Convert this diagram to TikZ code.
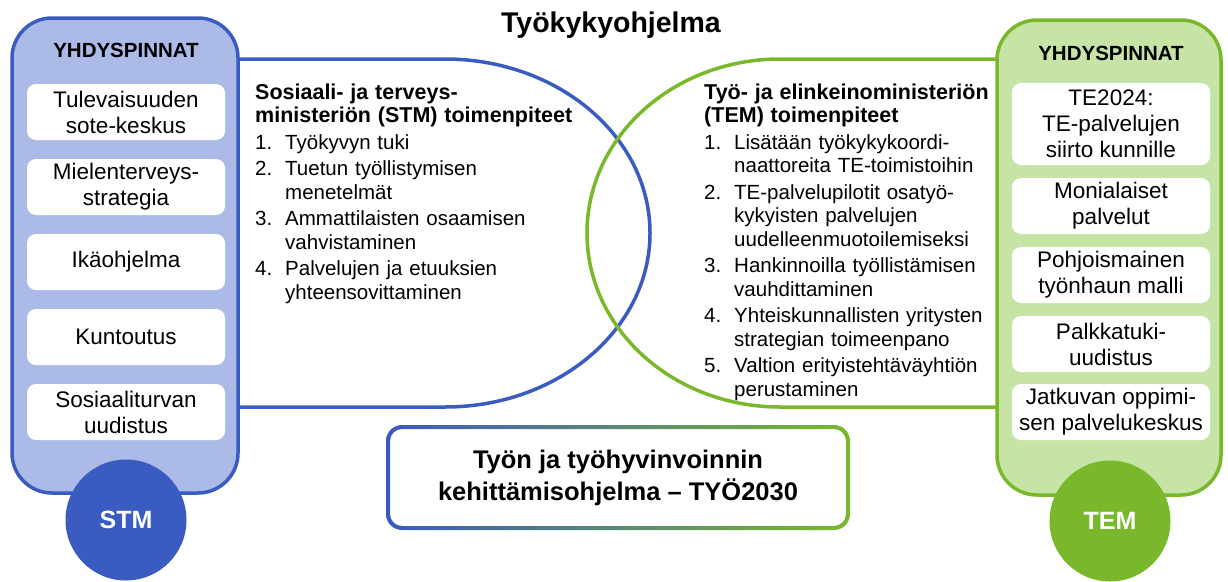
\documentclass[tikz,border=0pt]{standalone}
\usepackage{fontspec}
\setmainfont{Liberation Sans}
\usepackage{xcolor}
\usetikzlibrary{shapes}

\definecolor{stmblue}{HTML}{3A5BBF}
\definecolor{stmlight}{HTML}{ABBAE6}
\definecolor{temgreen}{HTML}{78B82A}
\definecolor{temlight}{HTML}{C6E4A6}

% one numbered measure, \jatko breaks to an indented line
\newcommand{\kohta}[2]{\par\noindent\makebox[30pt][l]{#1}#2}
\newcommand{\jatko}{\newline\hspace*{30pt}}

\begin{document}
\begin{tikzpicture}[x=1pt, y=-1pt,
  panel/.style={line width=3.5pt, rounded corners=40pt},
  venn/.style={line width=3.5pt},
  sidebox/.style={fill=white, rounded corners=9pt, minimum width=198pt, minimum height=56pt,
    inner sep=0pt, align=center, font=\fontsize{22.5}{26}\selectfont},
  header/.style={font=\bfseries\fontsize{20.5}{24}\selectfont},
  ministry/.style={circle, minimum size=121pt, inner sep=0pt, text=white,
    font=\bfseries\fontsize{25}{30}\selectfont},
  toimet/.style={anchor=north west, inner sep=0pt, text width=320pt, align=left,
    font=\fontsize{20.5}{23.5}\selectfont\setlength{\parskip}{3pt}},
]
\useasboundingbox (0,0) rectangle (1228,581);

\node[font=\bfseries\fontsize{28.5}{32}\selectfont] (otsikko) at (611,25) {Työkykyohjelma};

% the two half rounds
\draw[venn, stmblue] (238,59) -- (445,59) arc[start angle=-90, end angle=90, x radius=205, y radius=174] -- (238,407);
\draw[venn, temgreen] (997,59) -- (780,59) arc[start angle=-90, end angle=-270, x radius=193, y radius=174] -- (997,407);

% side panels
\draw[panel, draw=stmblue, fill=stmlight] (12,18) rectangle (238,493);
\draw[panel, draw=temgreen, fill=temlight] (997,20) rectangle (1221,495);

\node[header] (stmyhd) at (126,50) {YHDYSPINNAT};
\node[sidebox] (stm1) at (126,112) {Tulevaisuuden\\sote-keskus};
\node[sidebox] (stm2) at (126,187) {Mielenterveys-\\strategia};
\node[sidebox] (stm3) at (126,262) {Ikäohjelma};
\node[sidebox] (stm4) at (126,337) {Kuntoutus};
\node[sidebox] (stm5) at (126,412) {Sosiaaliturvan\\uudistus};

\node[header] (temyhd) at (1111,53) {YHDYSPINNAT};
\node[sidebox, minimum height=82pt] (tem1) at (1111,124) {TE2024:\\TE-palvelujen\\siirto kunnille};
\node[sidebox] (tem2) at (1111,206) {Monialaiset\\palvelut};
\node[sidebox] (tem3) at (1111,275) {Pohjoismainen\\työnhaun malli};
\node[sidebox] (tem4) at (1111,344) {Palkkatuki-\\uudistus};
\node[sidebox] (tem5) at (1111,412) {Jatkuvan oppimi-\\sen palvelukeskus};

\node[ministry, fill=stmblue] (stm) at (126,520) {STM};
\node[ministry, fill=temgreen] (tem) at (1110,521) {TEM};

% measures of the two ministries
\node[toimet] (stmtoimet) at (255,84) {{\bfseries\fontsize{21.5}{23}\selectfont\noindent
  Sosiaali- ja terveys-\newline ministeriön (STM) toimenpiteet\par}
  \kohta{1.}{Työkyvyn tuki}
  \kohta{2.}{Tuetun työllistymisen\jatko menetelmät}
  \kohta{3.}{Ammattilaisten osaamisen\jatko vahvistaminen}
  \kohta{4.}{Palvelujen ja etuuksien\jatko yhteensovittaminen}};

\node[toimet] (temtoimet) at (704,84) {{\bfseries\fontsize{21.5}{23}\selectfont\noindent
  Työ- ja elinkeinoministeriön\newline (TEM) toimenpiteet\par}
  \kohta{1.}{Lisätään työkykykoordi-\jatko naattoreita TE-toimistoihin}
  \kohta{2.}{TE-palvelupilotit osatyö-\jatko kykyisten palvelujen\jatko uudelleenmuotoilemiseksi}
  \kohta{3.}{Hankinnoilla työllistämisen\jatko vauhdittaminen}
  \kohta{4.}{Yhteiskunnallisten yritysten\jatko strategian toimeenpano}
  \kohta{5.}{Valtion erityistehtäväyhtiön\jatko perustaminen}};

% programme box with a blue to green frame
\shade[left color=stmblue, right color=temgreen, even odd rule]
  [rounded corners=16pt] (386,425) rectangle (850,530)
  [rounded corners=12pt] (390,429) rectangle (846,526);
\node[align=center, font=\bfseries\fontsize{25.5}{32}\selectfont] (tyo2030) at (618,478)
  {Työn ja työhyvinvoinnin\\kehittämisohjelma – TYÖ2030};
\end{tikzpicture}
\end{document}
